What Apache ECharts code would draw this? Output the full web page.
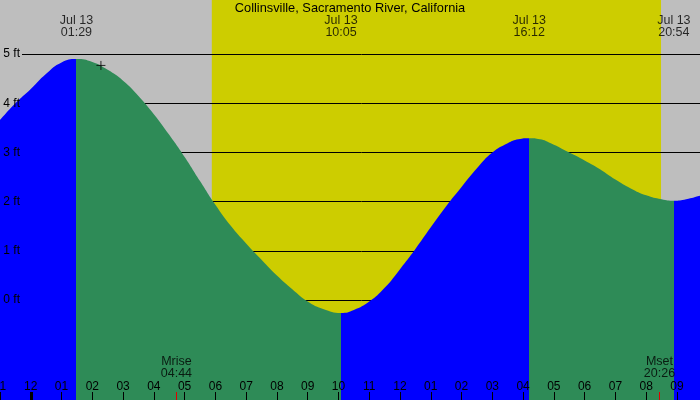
<!DOCTYPE html>
<html>
<head>
<meta charset="utf-8">
<script src="https://cdn.jsdelivr.net/npm/echarts@6/dist/echarts.min.js"></script>
<style>
  html, body { margin: 0; padding: 0; background: #bebebe; }
  #chart { width: 700px; height: 400px; }
</style>
</head>
<body>
<div id="chart"></div>
<script>
// tide height: hours after midnight Jul 13, feet
const curveHours = [-1.0, -0.5, 0.0, 0.5, 1.0, 2.0, 2.5, 3.0, 3.5, 4.0, 4.5, 5.0, 5.5, 6.0, 6.5, 7.0, 7.5, 8.0,
  8.5, 9.0, 9.5, 10.5, 11.0, 11.5, 12.0, 12.5, 13.0, 13.5, 14.0, 14.5, 15.0, 15.5, 15.85, 16.55, 16.9, 17.5, 18.0,
  18.5, 19.0, 19.5, 20.0, 20.5, 21.3, 21.75, 22.0];
const curveFeet = [3.66, 4.00, 4.29, 4.60, 4.83, 4.84, 4.68, 4.46, 4.15, 3.78, 3.36, 2.91, 2.42, 1.94, 1.51, 1.15,
  0.82, 0.50, 0.22, -0.03, -0.18, -0.20, -0.03, 0.25, 0.63, 1.04, 1.48, 1.91, 2.30, 2.68, 3.00, 3.19, 3.27, 3.27,
  3.19, 3.00, 2.84, 2.66, 2.45, 2.27, 2.13, 2.05, 2.05, 2.12, 2.16];

// highs and lows
const extremeTimes = ['01:29', '10:05', '16:12', '20:54'];
const extremeFeet = [4.90, -0.26, 3.29, 2.02];
const dateLabel = 'Jul 13';

// moon and sun
const moonNames = ['Mrise', 'Mset'];
const moonTimes = ['04:44', '20:26'];
const sunTimes = ['05:53', '20:29'];

// "+" marker on the curve
const markHour = 2.28;
const markFeet = 4.77;

const gridFeet = [0, 1, 2, 3, 4, 5];
const title = 'Collinsville, Sacramento River, California';

const BLUE = '#0000ff';
const GREEN = '#2e8b57';
const GRAY = '#bebebe';
const YELLOW = '#cdcd00';

const XMIN = -1, XMAX = 22;
const YMIN = -2.03, YMAX = 6.1;
const GRID_X0 = -0.285;     // grid lines start just right of their labels
const TOP_LABEL_FT = 5.56;  // height of the time labels over each extreme
const MOON_LABEL_FT = -1.38;

const toHours = s => { const p = s.split(':').map(Number); return p[0] + p[1] / 60; };

const tideData = curveHours.map((h, i) => [h, curveFeet[i]])
  .concat(extremeTimes.map((t, i) => [toHours(t), extremeFeet[i]]))
  .sort((a, b) => a[0] - b[0]);

// blue while rising (segment ends in a high), green while falling
const pieces = [];
extremeTimes.forEach((t, i) => {
  const isHigh = i + 1 < extremeFeet.length ? extremeFeet[i] > extremeFeet[i + 1] : extremeFeet[i] > extremeFeet[i - 1];
  const p = { color: isHigh ? BLUE : GREEN, lt: toHours(t) };
  if (i > 0) p.gte = toHours(extremeTimes[i - 1]);
  pieces.push(p);
});
const lastHigh = extremeFeet[extremeFeet.length - 1] > extremeFeet[extremeFeet.length - 2];
pieces.push({ gte: toHours(extremeTimes[extremeTimes.length - 1]), color: lastHigh ? GREEN : BLUE });

const hourLabel = v => {
  const h = ((v % 24) + 24) % 24;
  const h12 = h % 12 === 0 ? 12 : h % 12;
  return String(h12).padStart(2, '0');
};

const font = 'Liberation Sans';

const chart = echarts.init(document.getElementById('chart'), null, { renderer: 'canvas' });

const baseX = {
  type: 'value', position: 'bottom', min: XMIN, max: XMAX,
  axisLine: { show: false, onZero: false },
  splitLine: { show: false }
};

chart.setOption({
  backgroundColor: GRAY,
  animation: false,
  textStyle: { fontFamily: font, fontSize: 12, color: '#000' },
  title: {
    text: title,
    left: 'center',
    top: 2,
    padding: 0,
    textStyle: { fontFamily: font, fontSize: 12.8, fontWeight: 'normal', color: '#000' }
  },
  grid: { left: 0, right: -7.7, top: 0, bottom: 0, containLabel: false, outerBoundsMode: 'none' },
  xAxis: [
    Object.assign({}, baseX, {
      interval: 1, z: 10,
      axisTick: { show: true, inside: true, length: 8, lineStyle: { color: '#000', width: 1 } },
      axisLabel: { show: true, inside: true, margin: 7, color: '#000', fontFamily: font, fontSize: 12,
        formatter: hourLabel, showMinLabel: true, showMaxLabel: false, hideOverlap: false }
    }),
    Object.assign({}, baseX, {
      // midnight tick
      z: 11, axisLabel: { show: false },
      axisTick: { show: true, inside: true, length: 8, customValues: [0], lineStyle: { color: '#000', width: 3 } }
    }),
    Object.assign({}, baseX, {
      // moonrise / moonset ticks
      z: 11, axisLabel: { show: false },
      axisTick: { show: true, inside: true, length: 8, customValues: moonTimes.map(toHours),
        lineStyle: { color: '#e00000', width: 1 } }
    })
  ],
  yAxis: {
    type: 'value', min: YMIN, max: YMAX, show: false, splitLine: { show: false }
  },
  visualMap: {
    type: 'piecewise', show: false, dimension: 0, seriesIndex: 2, pieces: pieces
  },
  series: [
    {
      name: 'daylight', type: 'line', data: [], silent: true,
      markArea: {
        silent: true, z: 0,
        itemStyle: { color: YELLOW, opacity: 1 },
        data: [[{ xAxis: toHours(sunTimes[0]) }, { xAxis: toHours(sunTimes[1]) }]]
      }
    },
    {
      name: 'gridlines', type: 'line', data: [], silent: true,
      markLine: {
        silent: true, z: 1, symbol: 'none', animation: false,
        label: { show: false },
        lineStyle: { color: '#000', width: 1, type: 'solid', opacity: 1 },
        data: gridFeet.map(v => [{ coord: [GRID_X0, v] }, { coord: [XMAX, v] }])
      }
    },
    {
      name: 'tide', type: 'line', z: 2, data: tideData, smooth: 0.5,
      symbol: 'none', showSymbol: false,
      lineStyle: { width: 0 },
      areaStyle: { opacity: 1, origin: 'start' }
    },
    {
      name: 'gridlabels', type: 'line', data: [], silent: true,
      markLine: {
        silent: true, z: 6, symbol: 'none', animation: false,
        lineStyle: { color: 'rgba(0,0,0,0)', width: 1, type: 'solid' },
        label: { show: true, position: 'start', distance: 2, color: '#000', fontFamily: font, fontSize: 12,
          formatter: p => p.name },
        data: gridFeet.map(v => [{ coord: [GRID_X0, v], name: v + ' ft' }, { coord: [XMAX, v] }])
      }
    },
    {
      name: 'extremeLabels', type: 'scatter', z: 6, silent: true,
      symbolSize: 1, itemStyle: { color: 'transparent' },
      label: { show: true, position: 'inside', color: '#000', fontFamily: font, fontSize: 12.5, lineHeight: 12,
        align: 'center', formatter: p => dateLabel + '\n' + p.name },
      data: extremeTimes.map(t => ({ name: t, value: [toHours(t), TOP_LABEL_FT] }))
    },
    {
      name: 'moonLabels', type: 'scatter', z: 6, silent: true,
      symbolSize: 1, itemStyle: { color: 'transparent' },
      label: { show: true, position: 'inside', color: '#000', fontFamily: font, fontSize: 12.5, lineHeight: 12,
        align: 'center', formatter: p => p.name + '\n' + p.data.time },
      data: moonTimes.map((t, i) => ({ name: moonNames[i], time: t, value: [toHours(t), MOON_LABEL_FT] }))
    },
    {
      name: 'marker', type: 'scatter', z: 6, silent: true,
      symbol: 'path://M0,5L10,5M5,0L5,10', symbolSize: 9,
      itemStyle: { color: 'transparent', borderColor: '#000', borderWidth: 1 },
      data: [[markHour, markFeet]]
    }
  ]
});
</script>
</body>
</html>
